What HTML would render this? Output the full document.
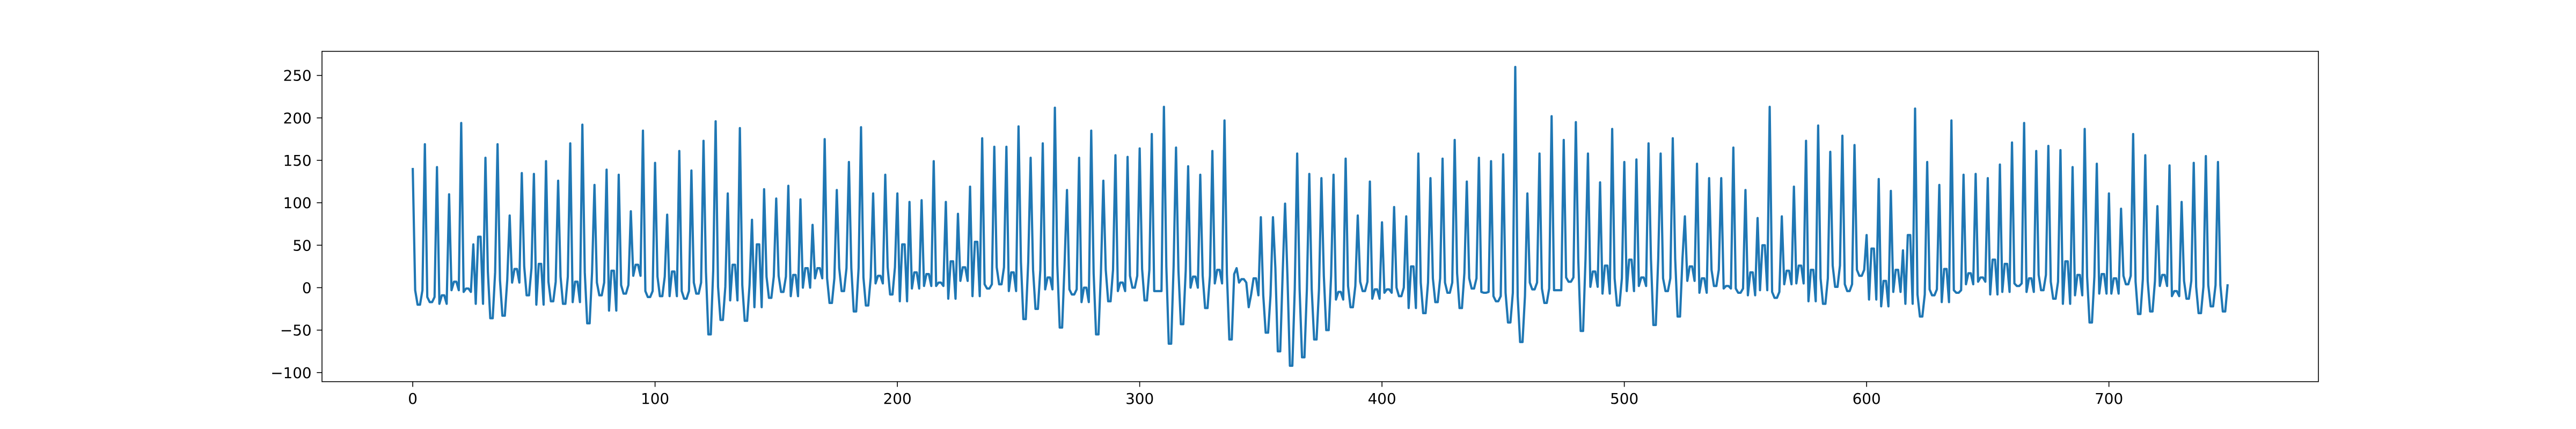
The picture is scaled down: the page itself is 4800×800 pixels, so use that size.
<!DOCTYPE html>
<html>
<head>
<meta charset="utf-8">
<style>
  html, body { margin: 0; padding: 0; background: #ffffff; }
  svg { display: block; }
  text { font-family: "DejaVu Sans", "Liberation Sans", sans-serif; font-size: 27.8px; fill: #000; }
</style>
</head>
<body>
<svg id="chart" width="4800" height="800" viewBox="0 0 4800 800" xmlns="http://www.w3.org/2000/svg">
  <rect x="0" y="0" width="4800" height="800" fill="#ffffff"/>
  <g id="plot"></g>
  <g id="xaxis"></g>
  <g id="yaxis"></g>
  <rect x="600" y="95.7" width="3720" height="616" fill="none" stroke="#000" stroke-width="1.6"/>
</svg>
<script>
const seriesValues = [
141,-3,-20,-20,-3,169,-11,-17,-17,-11,
142,-19,-9,-9,-19,110,-3,7,7,-3,
194,-5,-1,-1,-5,51,-19,60,60,-19,
153,19,-36,-36,18,169,9,-33,-33,9,
85,6,22,22,6,135,25,-9,-9,23,
134,-20,28,28,-20,149,7,-16,-16,7,
126,13,-19,-19,13,170,-17,7,7,-17,
192,18,-42,-42,18,121,6,-9,-9,6,
139,-27,20,20,-27,133,3,-7,-7,3,
90,14,27,27,14,185,-4,-11,-11,-4,
147,13,-10,-10,13,86,-10,19,19,-10,
161,-4,-13,-13,-4,138,6,-7,-7,6,
173,19,-55,-55,20,196,1,-38,-38,1,
111,-15,27,27,-15,188,3,-39,-39,3,
80,-23,51,51,-23,116,13,-12,-12,13,
105,14,-5,-5,13,120,-10,15,15,-10,
104,0,23,23,0,74,11,23,23,11,
175,11,-18,-18,11,115,23,-4,-4,23,
148,23,-28,-28,23,189,12,-21,-21,12,
111,5,14,14,5,133,24,-8,-8,24,
111,-16,51,51,-16,101,-1,18,18,-1,
103,2,16,16,2,149,2,6,6,2,
101,-13,31,31,-13,87,8,24,24,8,
119,-10,54,54,-10,176,4,-1,-1,4,
166,24,4,4,24,166,-4,18,18,-4,
190,30,-37,-37,30,153,21,-25,-25,21,
170,-2,12,12,-2,212,27,-47,-47,27,
115,-2,-8,-8,-2,153,-17,0,0,-17,
185,17,-55,-55,17,126,21,-16,-16,21,
156,-4,6,6,-4,154,14,0,0,14,
164,22,-15,-15,21,181,-4,-4,-4,-4,
213,25,-66,-66,25,165,20,-43,-43,20,
143,0,13,13,0,133,14,-24,-24,14,
161,5,21,21,5,197,16,-61,-61,16,
23,6,10,10,6,-23,-8,11,11,-9,
83,-9,-53,-53,-9,83,23,-75,-75,16,
99,12,-92,-92,-2,158,-2,-82,-82,-2,
134,-2,-61,-61,-2,129,14,-50,-50,14,
133,-14,-5,-5,-14,152,2,-23,-23,2,
85,7,-4,-4,7,125,-13,-2,-2,-13,
77,-6,-2,-2,-6,95,0,-10,-10,0,
84,-24,25,25,-24,158,6,-30,-30,6,
129,11,-17,-17,11,152,6,-6,-6,6,
174,17,-24,-24,17,125,11,-1,-1,11,
153,-5,-6,-6,-5,149,-10,-16,-16,-10,
157,-6,-41,-41,-6,260,-10,-64,-64,-10,
111,6,-2,-2,6,158,-1,-18,-18,-1,
202,-3,-3,-3,-3,174,12,7,7,12,
195,34,-51,-51,34,158,1,19,19,1,
124,-7,26,26,-7,187,11,-21,-21,11,
148,-4,33,33,-4,151,2,12,12,2,
170,34,-44,-44,34,158,11,-4,-4,11,
176,34,-34,-34,34,84,8,25,25,8,
146,-6,11,11,-6,129,21,2,2,21,
129,-1,2,2,-1,165,-1,-6,-6,-1,
115,-9,18,18,-9,82,-3,50,50,-3,
213,-5,-12,-12,-5,84,4,20,20,4,
119,5,26,26,5,173,-16,21,21,-16,
191,11,-19,-19,11,160,26,1,1,26,
179,4,-4,-4,4,168,21,14,14,21,
62,-14,46,46,-14,128,-22,8,8,-22,
114,-5,21,21,-5,44,-19,62,62,-19,
211,-8,-34,-34,-8,148,-2,-9,-9,-2,
121,-17,22,22,-17,197,-3,-6,-6,-3,
133,4,17,17,4,134,7,12,12,7,
129,-8,33,33,-8,145,-5,28,28,-5,
171,5,2,2,5,194,-5,11,11,-5,
161,15,-3,-3,15,167,7,-13,-13,7,
162,-19,31,31,-19,142,-9,15,15,-9,
187,13,-41,-41,13,146,-7,16,16,-7,
111,-7,11,11,-7,93,14,4,4,14,
181,7,-31,-31,10,156,8,-28,-28,8,
96,2,15,15,2,144,-10,-4,-4,-10,
101,8,-13,-13,8,147,1,-30,-30,1,
155,3,-22,-22,3,148,3,-28,-28,4
];
const xTickValues = [0, 100, 200, 300, 400, 500, 600, 700];
const yTickValues = [-100, -50, 0, 50, 100, 150, 200, 250];
const xTickLabels = ["0", "100", "200", "300", "400", "500", "600", "700"];
const yTickLabels = ["\u2212100", "\u221250", "0", "50", "100", "150", "200", "250"];

const NS = "http://www.w3.org/2000/svg";
const AX = { left: 600, right: 4320, top: 95.7, bottom: 711.7 };
const n = seriesValues.length;
const xMin = -0.05 * (n - 1), xMax = (n - 1) * 1.05;
const yMin = -110.7, yMax = 278.4;
function xScale(v) { return AX.left + (v - xMin) / (xMax - xMin) * (AX.right - AX.left); }
function yScale(v) { return AX.bottom - (v - yMin) / (yMax - yMin) * (AX.bottom - AX.top); }

const plot = document.getElementById("plot");
const pts = seriesValues.map((v, i) => xScale(i).toFixed(2) + "," + yScale(v).toFixed(2)).join(" ");
const line = document.createElementNS(NS, "polyline");
line.setAttribute("points", pts);
line.setAttribute("fill", "none");
line.setAttribute("stroke", "#1f77b4");
line.setAttribute("stroke-width", "4.17");
line.setAttribute("stroke-linejoin", "round");
line.setAttribute("stroke-linecap", "butt");


plot.appendChild(line);

const xg = document.getElementById("xaxis");
xTickValues.forEach((t, k) => {
  const x = xScale(t);
  const tk = document.createElementNS(NS, "line");
  tk.setAttribute("x1", x); tk.setAttribute("x2", x);
  tk.setAttribute("y1", AX.bottom); tk.setAttribute("y2", AX.bottom + 9.7);
  tk.setAttribute("stroke", "#000"); tk.setAttribute("stroke-width", "1.6");
  
  
  xg.appendChild(tk);
  const tx = document.createElementNS(NS, "text");
  tx.setAttribute("x", x); tx.setAttribute("y", 753);
  tx.setAttribute("text-anchor", "middle");
  tx.textContent = xTickLabels[k];
  
  
  xg.appendChild(tx);
});

const yg = document.getElementById("yaxis");
yTickValues.forEach((t, k) => {
  const y = yScale(t);
  const tk = document.createElementNS(NS, "line");
  tk.setAttribute("x1", AX.left - 9.7); tk.setAttribute("x2", AX.left);
  tk.setAttribute("y1", y); tk.setAttribute("y2", y);
  tk.setAttribute("stroke", "#000"); tk.setAttribute("stroke-width", "1.6");
  
  
  yg.appendChild(tk);
  const tx = document.createElementNS(NS, "text");
  tx.setAttribute("x", AX.left - 19.4); tx.setAttribute("y", y + 10);
  tx.setAttribute("text-anchor", "end");
  tx.textContent = yTickLabels[k];
  
  
  yg.appendChild(tx);
});
</script>
</body>
</html>
